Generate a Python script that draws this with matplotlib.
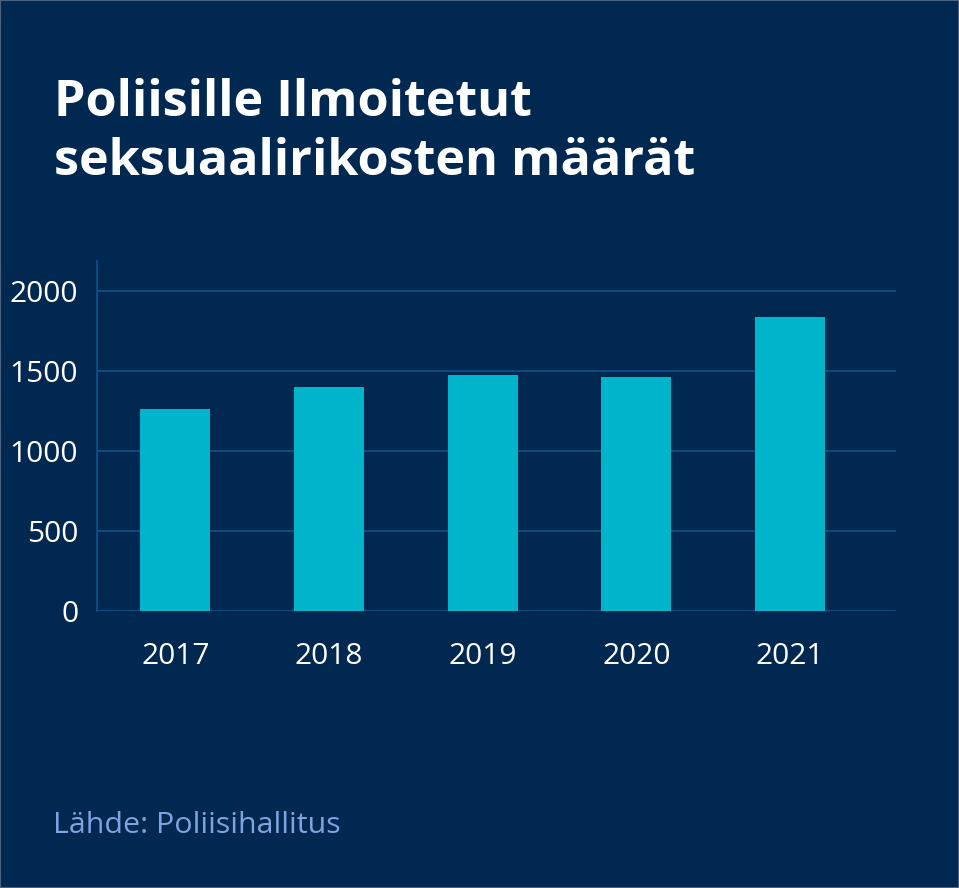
import matplotlib.pyplot as plt
from matplotlib.patches import Rectangle

# Data
vuodet = ["2017", "2018", "2019", "2020", "2021"]
maarat = [1262, 1402, 1479, 1467, 1839]
y_ticks = [0, 500, 1000, 1500, 2000]

bg = "#012850"
bar_color = "#00b5cb"
grid_color = "#0e4f86"

plt.rcParams["font.family"] = ["Open Sans", "DejaVu Sans"]

fig = plt.figure(figsize=(9.59, 8.88), dpi=100, facecolor=bg)
ax = fig.add_axes([0.1011, 0.3120, 0.8332, 0.3941])
ax.set_facecolor(bg)

x = range(len(vuodet))
ax.bar(x, maarat, width=0.455, color=bar_color, zorder=3)

ax.set_xlim(-0.51, 4.69)
ax.set_ylim(0, 2190)
ax.set_yticks(y_ticks)
ax.set_xticks(list(x))
ax.set_xticklabels(vuodet)
ax.yaxis.grid(True, color=grid_color, linewidth=1.3, zorder=0)
ax.tick_params(axis="both", length=0, colors="white", labelsize=21.5)
ax.tick_params(axis="y", pad=13.5)
ax.tick_params(axis="x", pad=22.5)

for side in ["top", "right", "bottom"]:
    ax.spines[side].set_visible(False)
ax.spines["left"].set_color(grid_color)
ax.spines["left"].set_linewidth(1.3)

# Title
fig.text(0.056, 0.8694, "Poliisille Ilmoitetut", color="white", fontsize=36.3,
         fontweight="bold", va="baseline", ha="left")
fig.text(0.056, 0.803, "seksuaalirikosten määrät", color="white", fontsize=36.3,
         fontweight="bold", va="baseline", ha="left")

# Source
fig.text(0.0553, 0.0619, "Lähde: Poliisihallitus", color="#7ea3df", fontsize=21.9,
         va="baseline", ha="left")

# thin frame
fig.patches.append(Rectangle((0, 0), 1, 1, transform=fig.transFigure,
                             fill=False, edgecolor="#4a6280", linewidth=1.5))

fig.savefig("out.png", dpi=100, facecolor=bg)
